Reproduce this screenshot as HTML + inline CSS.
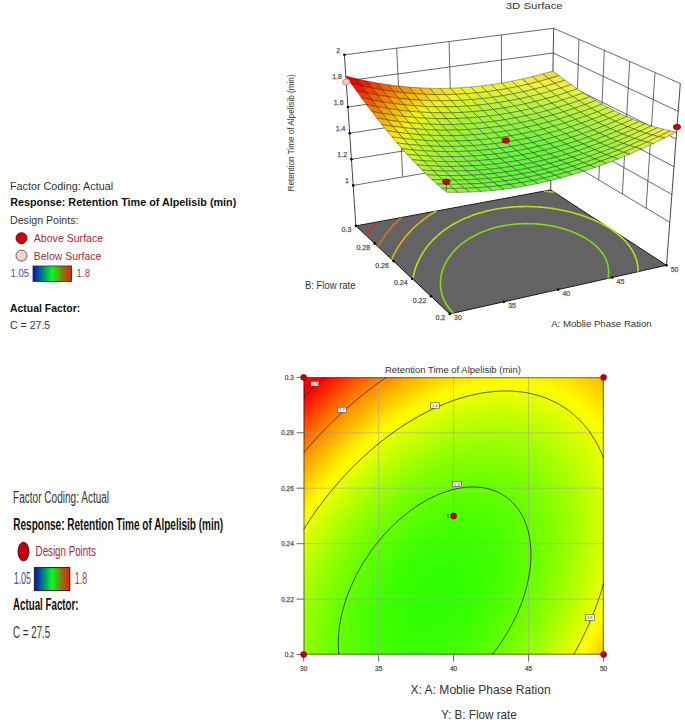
<!DOCTYPE html>
<html><head><meta charset="utf-8"><style>
html,body{margin:0;padding:0;background:#fff;}
svg{display:block;}
text{font-family:"Liberation Sans",sans-serif;}
</style></head><body>
<svg width="685" height="725" viewBox="0 0 685 725">
<defs><linearGradient id="lg" x1="0" x2="1" y1="0" y2="0"><stop offset="0" stop-color="#0010c8"/><stop offset="0.25" stop-color="#008080"/><stop offset="0.5" stop-color="#00ff20"/><stop offset="0.75" stop-color="#7f8010"/><stop offset="1" stop-color="#f01a10"/></linearGradient></defs>
<text x="10" y="189.6" font-size="11.5" textLength="103.1" lengthAdjust="spacingAndGlyphs" fill="#333">Factor Coding: Actual</text>
<text x="10.2" y="206.4" font-size="11.5" textLength="226.1" lengthAdjust="spacingAndGlyphs" font-weight="bold" fill="#111">Response: Retention Time of Alpelisib (min)</text>
<text x="10" y="223.9" font-size="11.5" textLength="68.5" lengthAdjust="spacingAndGlyphs" fill="#333">Design Points:</text>
<circle cx="21.5" cy="238.2" r="5.5" fill="#cc0010" stroke="#6a0010" stroke-width="0.9"/>
<text x="33.8" y="242.3" font-size="11.5" textLength="69.3" lengthAdjust="spacingAndGlyphs" fill="#a8283a">Above Surface</text>
<circle cx="21.5" cy="255.6" r="5.5" fill="#f8d0d0" stroke="#5a4848" stroke-width="0.9"/>
<text x="33.8" y="259.7" font-size="11.5" textLength="67.5" lengthAdjust="spacingAndGlyphs" fill="#a8283a">Below Surface</text>
<text x="10.6" y="276.5" font-size="11.5" textLength="18.6" lengthAdjust="spacingAndGlyphs" fill="#4646b4">1.05</text>
<rect x="33" y="266" width="38.6" height="15.4" fill="url(#lg)" stroke="#402020" stroke-width="0.8"/>
<text x="76.6" y="276.5" font-size="11.5" textLength="13.4" lengthAdjust="spacingAndGlyphs" fill="#c03444">1.8</text>
<text x="10" y="311.9" font-size="11.5" textLength="70.3" lengthAdjust="spacingAndGlyphs" font-weight="bold" fill="#111">Actual Factor:</text>
<text x="10" y="329.2" font-size="11.5" textLength="40.2" lengthAdjust="spacingAndGlyphs" fill="#333">C = 27.5</text>
<g fill="none">
<line x1="353.2" y1="185.4" x2="551.4" y2="151.7" stroke="#444" stroke-width="0.8"/>
<line x1="351.4" y1="159.3" x2="551.9" y2="127.0" stroke="#444" stroke-width="0.8"/>
<line x1="349.7" y1="133.2" x2="552.3" y2="102.3" stroke="#444" stroke-width="0.8"/>
<line x1="347.9" y1="107.0" x2="552.8" y2="77.6" stroke="#444" stroke-width="0.8"/>
<line x1="346.2" y1="80.9" x2="553.2" y2="53.0" stroke="#444" stroke-width="0.8"/>
<line x1="344.4" y1="54.8" x2="553.7" y2="28.3" stroke="#444" stroke-width="0.8"/>
<line x1="402.7" y1="177.0" x2="396.7" y2="48.2" stroke="#444" stroke-width="0.8"/>
<line x1="452.3" y1="168.5" x2="449.1" y2="41.5" stroke="#444" stroke-width="0.8"/>
<line x1="501.9" y1="160.1" x2="501.4" y2="34.9" stroke="#444" stroke-width="0.8"/>
<line x1="669.8" y1="222.3" x2="551.4" y2="151.7" stroke="#444" stroke-width="0.8"/>
<line x1="671.9" y1="194.5" x2="551.9" y2="127.0" stroke="#444" stroke-width="0.8"/>
<line x1="674.0" y1="166.8" x2="552.3" y2="102.3" stroke="#444" stroke-width="0.8"/>
<line x1="676.1" y1="139.0" x2="552.8" y2="77.6" stroke="#444" stroke-width="0.8"/>
<line x1="678.2" y1="111.3" x2="553.2" y2="53.0" stroke="#444" stroke-width="0.8"/>
<line x1="680.3" y1="83.5" x2="553.7" y2="28.3" stroke="#444" stroke-width="0.8"/>
<line x1="646.1" y1="208.2" x2="655.0" y2="72.5" stroke="#444" stroke-width="0.8"/>
<line x1="622.4" y1="194.0" x2="629.7" y2="61.4" stroke="#444" stroke-width="0.8"/>
<line x1="598.8" y1="179.9" x2="604.3" y2="50.4" stroke="#444" stroke-width="0.8"/>
<line x1="575.1" y1="165.8" x2="579.0" y2="39.3" stroke="#444" stroke-width="0.8"/>
<line x1="355.9" y1="225.9" x2="344.4" y2="54.8" stroke="#333" stroke-width="0.9"/>
<line x1="550.7" y1="189.9" x2="553.7" y2="28.3" stroke="#333" stroke-width="0.9"/>
<line x1="666.5" y1="265.3" x2="680.3" y2="83.5" stroke="#333" stroke-width="0.9"/>
</g>
<polygon points="449.8,313.9 666.5,265.3 550.7,189.9 355.9,225.9" fill="#636363" stroke="#1a1a1a" stroke-width="1"/>
<polyline points="376.2,222.1 375.3,223.2 374.6,224.0 373.8,225.0 373.1,225.9 372.3,226.9 371.7,227.7 370.8,228.8 370.3,229.6 369.4,230.8 368.9,231.4 368.1,232.6 367.5,233.5 366.8,234.5 366.1,235.5 366.1,235.5" fill="none" stroke="#dd2516" stroke-width="1.6"/>
<polyline points="401.3,217.5 400.5,218.2 399.4,219.3 398.5,220.1 397.7,220.9 396.5,222.0 395.9,222.7 394.9,223.7 394.1,224.6 393.3,225.4 392.3,226.5 391.7,227.2 390.7,228.4 390.1,229.0 389.1,230.2 388.6,230.9 387.6,232.1 387.1,232.8 386.1,234.0 385.6,234.7 384.8,235.8 384.2,236.7 383.5,237.7 382.8,238.7 382.2,239.5 381.4,240.7 380.9,241.5 380.3,242.5 379.6,243.6 379.2,244.3 378.5,245.5 377.9,246.5 377.9,246.5" fill="none" stroke="#dd6f16" stroke-width="1.6"/>
<polyline points="436.3,211.0 435.1,211.8 433.8,212.5 432.7,213.3 431.4,214.0 430.1,214.9 428.7,215.8 427.4,216.7 426.3,217.5 425.3,218.2 424.2,219.0 423.0,220.0 421.7,221.0 420.9,221.6 419.9,222.5 418.7,223.5 417.7,224.3 416.9,225.0 415.7,226.1 414.8,227.0 414.0,227.7 412.8,228.8 412.1,229.6 411.1,230.5 410.2,231.5 409.5,232.3 408.5,233.4 407.9,234.1 406.8,235.3 406.3,235.9 405.3,237.1 404.7,237.8 403.8,239.0 403.3,239.7 402.4,240.9 401.8,241.6 401.0,242.7 400.4,243.7 399.8,244.6 399.0,245.7 398.6,246.4 397.8,247.6 397.2,248.6 396.7,249.4 396.1,250.6 395.5,251.5 395.1,252.4 394.4,253.6 393.9,254.6 393.5,255.4 393.0,256.6 392.4,257.8 392.1,258.6 391.7,259.5" fill="none" stroke="#ddb616" stroke-width="1.6"/>
<polyline points="554.3,192.3 552.4,192.0 549.7,191.7 547.5,191.5 545.2,191.2 544.1,191.1" fill="none" stroke="#ddb616" stroke-width="1.6"/>
<polyline points="638.0,271.7 638.0,270.7 638.0,269.6 638.0,268.6 637.9,267.6 637.8,266.6 637.7,265.6 637.5,264.6 637.3,263.6 637.1,262.7 636.9,261.7 636.7,260.7 636.4,259.7 636.0,258.5 635.6,257.4 635.2,256.4 634.9,255.5 634.4,254.6 633.8,253.3 633.3,252.3 632.8,251.4 632.3,250.4 631.5,249.1 630.9,248.3 630.2,247.2 629.4,246.1 628.7,245.2 627.7,243.9 627.0,243.0 625.9,241.8 625.1,240.9 623.9,239.7 623.1,238.8 621.8,237.6 620.4,236.4 619.5,235.6 618.1,234.4 616.6,233.2 615.0,232.0 613.4,230.8 611.7,229.7 610.0,228.6 608.2,227.4 606.3,226.3 604.4,225.2 602.4,224.1 600.4,223.1 598.9,222.4 596.7,221.3 595.1,220.6 592.9,219.6 591.2,218.9 588.8,217.9 587.1,217.3 584.9,216.5 582.7,215.7 580.8,215.1 578.9,214.5 576.9,213.9 574.7,213.2 572.4,212.6 570.3,212.0 568.2,211.5 566.1,211.0 563.7,210.5 561.2,210.0 558.7,209.5 557.0,209.2 554.5,208.8 551.9,208.4 550.2,208.2 547.1,207.8 545.4,207.6 542.6,207.3 540.2,207.1 538.3,207.0 535.5,206.8 532.8,206.7 530.1,206.6 527.6,206.5 525.0,206.5 522.5,206.6 520.1,206.6 517.7,206.7 515.3,206.8 511.9,207.1 509.7,207.3 506.4,207.6 504.2,207.8 501.1,208.3 498.0,208.7 495.0,209.3 492.0,209.8 489.2,210.5 486.3,211.1 483.6,211.9 481.8,212.4 479.1,213.1 477.3,213.7 474.7,214.5 473.1,215.1 471.4,215.7 469.0,216.7 467.3,217.4 465.7,218.0 464.1,218.7 462.5,219.4 460.8,220.3 459.1,221.1 457.6,221.9 456.1,222.7 454.6,223.5 453.3,224.3 452.0,225.0 450.8,225.8 449.4,226.7 448.0,227.6 446.7,228.5 445.3,229.4 444.4,230.1 443.4,230.9 442.1,231.8 440.8,232.9 439.9,233.6 439.0,234.4 437.8,235.5 436.8,236.3 436.0,237.1 434.8,238.2 434.1,238.9 433.1,239.9 432.2,240.9 431.4,241.7 430.4,242.8 429.8,243.5 428.7,244.7 428.2,245.3 427.2,246.6 426.7,247.3 425.8,248.4 425.2,249.2 424.5,250.3 423.8,251.3 423.2,252.1 422.5,253.3 422.0,254.1 421.4,255.2 420.7,256.3 420.3,257.1 419.7,258.1 419.1,259.3 418.7,260.2 418.3,261.1 417.7,262.3 417.3,263.4 416.9,264.2 416.5,265.2 416.1,266.4 415.7,267.5 415.3,268.6 415.1,269.5 414.8,270.4 414.5,271.5 414.2,272.7 413.9,273.8 413.7,274.9 413.4,276.1 413.2,277.2 413.1,278.3 412.9,279.3 412.9,279.3" fill="none" stroke="#bfdd16" stroke-width="1.6"/>
<polyline points="607.9,278.4 608.1,277.4 608.3,276.3 608.4,275.2 608.5,274.2 608.6,273.1 608.6,272.1 608.6,271.0 608.5,270.0 608.5,269.0 608.4,268.0 608.2,267.0 608.0,266.0 607.8,265.0 607.6,264.0 607.3,263.1 606.9,261.9 606.5,260.7 606.1,259.7 605.7,258.8 605.1,257.7 604.5,256.5 603.9,255.6 603.3,254.5 602.5,253.4 601.9,252.5 600.8,251.2 600.1,250.3 599.0,249.0 598.2,248.1 597.0,246.9 595.6,245.7 594.5,244.7 593.3,243.6 591.7,242.4 590.1,241.2 588.4,240.1 586.7,238.9 584.8,237.8 583.0,236.8 581.5,236.0 579.3,234.9 577.8,234.2 575.6,233.1 574.0,232.5 571.4,231.5 569.7,230.8 567.9,230.2 565.7,229.4 563.3,228.7 561.1,228.1 558.9,227.5 556.9,227.0 555.0,226.6 552.8,226.1 550.2,225.7 547.8,225.3 546.0,225.0 543.0,224.6 541.4,224.4 538.4,224.1 536.1,223.9 534.1,223.8 531.3,223.7 528.7,223.6 526.1,223.6 523.6,223.7 521.1,223.8 518.2,223.9 515.2,224.2 513.0,224.4 509.7,224.8 506.5,225.2 504.4,225.6 501.4,226.2 499.4,226.6 496.5,227.3 493.7,228.1 491.8,228.6 489.2,229.4 487.4,230.0 484.8,231.0 483.1,231.6 481.5,232.3 479.8,233.0 477.9,233.9 476.1,234.8 474.5,235.6 472.9,236.5 471.5,237.3 470.2,238.0 468.9,238.8 467.8,239.6 466.4,240.5 465.0,241.4 463.7,242.4 462.7,243.2 461.7,243.9 460.4,245.0 459.3,245.9 458.5,246.6 457.4,247.7 456.4,248.6 455.6,249.4 454.5,250.6 453.9,251.2 452.9,252.4 452.2,253.1 451.3,254.3 450.7,255.0 449.8,256.3 449.3,257.0 448.5,258.1 447.9,259.1 447.4,260.0 446.6,261.2 446.2,262.0 445.7,263.0 445.1,264.1 444.6,265.1 444.2,265.9 443.7,267.1 443.3,268.2 442.9,269.3 442.6,270.1 442.3,271.1 442.0,272.3 441.7,273.4 441.4,274.5 441.2,275.6 441.0,276.7 440.8,277.7 440.7,278.8 440.6,279.9 440.5,281.0 440.4,282.1 440.4,283.2 440.4,284.4 440.5,285.5 440.5,286.5 440.6,287.6 440.8,288.7 440.9,289.7 441.2,291.1 441.4,292.3 441.7,293.3 441.9,294.4 442.4,295.9 442.8,296.9 443.1,297.9 443.8,299.4 444.2,300.4 444.9,301.9 445.5,302.8 446.3,304.3 446.9,305.2 447.9,306.7 448.9,308.0 449.7,309.0 450.8,310.4 452.1,311.8 453.4,313.1 453.4,313.1" fill="none" stroke="#7add16" stroke-width="1.6"/>
<circle cx="353.2" cy="185.4" r="1.3" fill="#000"/>
<circle cx="351.4" cy="159.3" r="1.3" fill="#000"/>
<circle cx="349.7" cy="133.2" r="1.3" fill="#000"/>
<circle cx="347.9" cy="107.0" r="1.3" fill="#000"/>
<circle cx="346.2" cy="80.9" r="1.3" fill="#000"/>
<circle cx="344.4" cy="54.8" r="1.3" fill="#000"/>
<circle cx="449.8" cy="313.9" r="1.3" fill="#000"/>
<circle cx="504.0" cy="301.8" r="1.3" fill="#000"/>
<circle cx="558.1" cy="289.6" r="1.3" fill="#000"/>
<circle cx="612.3" cy="277.5" r="1.3" fill="#000"/>
<circle cx="666.5" cy="265.3" r="1.3" fill="#000"/>
<circle cx="431.0" cy="296.3" r="1.3" fill="#000"/>
<circle cx="412.2" cy="278.7" r="1.3" fill="#000"/>
<circle cx="393.5" cy="261.1" r="1.3" fill="#000"/>
<circle cx="374.7" cy="243.5" r="1.3" fill="#000"/>
<circle cx="355.9" cy="225.9" r="1.3" fill="#000"/>
<g stroke="#000" stroke-width="0.6" stroke-opacity="0.55" stroke-linejoin="round">
<polygon points="548.7,78.7 559.1,75.6 552.9,70.9 542.6,73.9" fill="#f2d741"/>
<polygon points="538.4,81.6 548.7,78.7 542.6,73.9 532.3,76.6" fill="#f2e241"/>
<polygon points="554.8,83.4 565.2,80.2 559.1,75.6 548.7,78.7" fill="#f2e441"/>
<polygon points="528.0,84.2 538.4,81.6 532.3,76.6 522.1,79.0" fill="#f2eb41"/>
<polygon points="544.4,86.4 554.8,83.4 548.7,78.7 538.4,81.6" fill="#f2ef41"/>
<polygon points="517.7,86.5 528.0,84.2 522.1,79.0 511.8,81.2" fill="#f2f241"/>
<polygon points="560.9,88.0 571.3,84.6 565.2,80.2 554.8,83.4" fill="#f2ef41"/>
<polygon points="534.0,89.2 544.4,86.4 538.4,81.6 528.0,84.2" fill="#ebf241"/>
<polygon points="507.4,88.5 517.7,86.5 511.8,81.2 501.6,83.1" fill="#edf23c"/>
<polygon points="550.4,91.1 560.9,88.0 554.8,83.4 544.4,86.4" fill="#e9f241"/>
<polygon points="523.6,91.6 534.0,89.2 528.0,84.2 517.7,86.5" fill="#e4f241"/>
<polygon points="497.1,90.2 507.4,88.5 501.6,83.1 491.3,84.7" fill="#ebf237"/>
<polygon points="566.9,92.4 577.5,88.8 571.3,84.6 560.9,88.0" fill="#ebf241"/>
<polygon points="540.0,94.0 550.4,91.1 544.4,86.4 534.0,89.2" fill="#def241"/>
<polygon points="513.3,93.8 523.6,91.6 517.7,86.5 507.4,88.5" fill="#def241"/>
<polygon points="486.8,91.7 497.1,90.2 491.3,84.7 481.1,86.0" fill="#eaf231"/>
<polygon points="556.4,95.7 566.9,92.4 560.9,88.0 550.4,91.1" fill="#def241"/>
<polygon points="529.5,96.6 540.0,94.0 534.0,89.2 523.6,91.6" fill="#d7f241"/>
<polygon points="502.9,95.7 513.3,93.8 507.4,88.5 497.1,90.2" fill="#dbf23c"/>
<polygon points="476.5,92.9 486.8,91.7 481.1,86.0 470.8,87.0" fill="#ecf22c"/>
<polygon points="573.0,96.6 583.6,92.9 577.5,88.8 566.9,92.4" fill="#e3f241"/>
<polygon points="545.9,98.7 556.4,95.7 550.4,91.1 540.0,94.0" fill="#d3f241"/>
<polygon points="519.1,98.9 529.5,96.6 523.6,91.6 513.3,93.8" fill="#d0f241"/>
<polygon points="492.6,97.3 502.9,95.7 497.1,90.2 486.8,91.7" fill="#d8f237"/>
<polygon points="466.2,93.7 476.5,92.9 470.8,87.0 460.5,87.8" fill="#f1f226"/>
<polygon points="562.4,100.0 573.0,96.6 566.9,92.4 556.4,95.7" fill="#d5f241"/>
<polygon points="535.4,101.4 545.9,98.7 540.0,94.0 529.5,96.6" fill="#caf241"/>
<polygon points="508.7,100.9 519.1,98.9 513.3,93.8 502.9,95.7" fill="#ccf241"/>
<polygon points="482.2,98.6 492.6,97.3 486.8,91.7 476.5,92.9" fill="#d9f231"/>
<polygon points="455.9,94.3 466.2,93.7 460.5,87.8 450.2,88.2" fill="#f2ec21"/>
<polygon points="579.1,100.7 589.7,96.8 583.6,92.9 573.0,96.6" fill="#dbf241"/>
<polygon points="551.8,103.2 562.4,100.0 556.4,95.7 545.9,98.7" fill="#c9f241"/>
<polygon points="524.9,103.9 535.4,101.4 529.5,96.6 519.1,98.9" fill="#c3f241"/>
<polygon points="498.3,102.6 508.7,100.9 502.9,95.7 492.6,97.3" fill="#caf23c"/>
<polygon points="471.8,99.6 482.2,98.6 476.5,92.9 466.2,93.7" fill="#dcf22c"/>
<polygon points="445.5,94.6 455.9,94.3 450.2,88.2 439.9,88.4" fill="#f2e21b"/>
<polygon points="568.4,104.2 579.1,100.7 573.0,96.6 562.4,100.0" fill="#cdf241"/>
<polygon points="541.3,106.1 551.8,103.2 545.9,98.7 535.4,101.4" fill="#c0f241"/>
<polygon points="514.5,106.0 524.9,103.9 519.1,98.9 508.7,100.9" fill="#bff241"/>
<polygon points="487.9,104.1 498.3,102.6 492.6,97.3 482.2,98.6" fill="#c8f237"/>
<polygon points="461.5,100.3 471.8,99.6 466.2,93.7 455.9,94.3" fill="#e1f226"/>
<polygon points="585.1,104.5 595.9,100.5 589.7,96.8 579.1,100.7" fill="#d6f241"/>
<polygon points="435.1,94.6 445.5,94.6 439.9,88.4 429.6,88.2" fill="#f2d516"/>
<polygon points="557.8,107.5 568.4,104.2 562.4,100.0 551.8,103.2" fill="#c0f241"/>
<polygon points="530.8,108.7 541.3,106.1 535.4,101.4 524.9,103.9" fill="#b8f241"/>
<polygon points="504.0,107.9 514.5,106.0 508.7,100.9 498.3,102.6" fill="#bcf241"/>
<polygon points="477.5,105.2 487.9,104.1 482.2,98.6 471.8,99.6" fill="#caf231"/>
<polygon points="451.1,100.7 461.5,100.3 455.9,94.3 445.5,94.6" fill="#eaf221"/>
<polygon points="574.4,108.3 585.1,104.5 579.1,100.7 568.4,104.2" fill="#c7f241"/>
<polygon points="424.8,94.3 435.1,94.6 429.6,88.2 419.3,87.8" fill="#f2c410"/>
<polygon points="547.2,110.6 557.8,107.5 551.8,103.2 541.3,106.1" fill="#b6f241"/>
<polygon points="520.2,110.9 530.8,108.7 524.9,103.9 514.5,106.0" fill="#b2f241"/>
<polygon points="493.5,109.5 504.0,107.9 498.3,102.6 487.9,104.1" fill="#baf23c"/>
<polygon points="467.0,106.1 477.5,105.2 471.8,99.6 461.5,100.3" fill="#cef22c"/>
<polygon points="591.2,108.3 602.0,104.1 595.9,100.5 585.1,104.5" fill="#d1f241"/>
<polygon points="440.7,100.8 451.1,100.7 445.5,94.6 435.1,94.6" fill="#f2ee1b"/>
<polygon points="563.7,111.7 574.4,108.3 568.4,104.2 557.8,107.5" fill="#b9f241"/>
<polygon points="414.3,93.7 424.8,94.3 419.3,87.8 408.9,87.1" fill="#f2b00b"/>
<polygon points="536.6,113.3 547.2,110.6 541.3,106.1 530.8,108.7" fill="#aef241"/>
<polygon points="509.7,113.0 520.2,110.9 514.5,106.0 504.0,107.9" fill="#b0f241"/>
<polygon points="483.1,110.7 493.5,109.5 487.9,104.1 477.5,105.2" fill="#baf237"/>
<polygon points="456.6,106.6 467.0,106.1 461.5,100.3 451.1,100.7" fill="#d5f226"/>
<polygon points="580.4,112.1 591.2,108.3 585.1,104.5 574.4,108.3" fill="#c1f241"/>
<polygon points="430.2,100.6 440.7,100.8 435.1,94.6 424.8,94.3" fill="#f2df16"/>
<polygon points="553.0,114.9 563.7,111.7 557.8,107.5 547.2,110.6" fill="#aef241"/>
<polygon points="403.9,92.8 414.3,93.7 408.9,87.1 398.5,86.0" fill="#f29705"/>
<polygon points="526.0,115.7 536.6,113.3 530.8,108.7 520.2,110.9" fill="#a8f241"/>
<polygon points="499.2,114.7 509.7,113.0 504.0,107.9 493.5,109.5" fill="#aef241"/>
<polygon points="472.6,111.7 483.1,110.7 477.5,105.2 467.0,106.1" fill="#bdf231"/>
<polygon points="597.3,111.8 608.2,107.5 602.0,104.1 591.2,108.3" fill="#cdf241"/>
<polygon points="446.1,106.9 456.6,106.6 451.1,100.7 440.7,100.8" fill="#dff221"/>
<polygon points="569.6,115.7 580.4,112.1 574.4,108.3 563.7,111.7" fill="#b3f241"/>
<polygon points="419.8,100.2 430.2,100.6 424.8,94.3 414.3,93.7" fill="#f2cd10"/>
<polygon points="542.4,117.7 553.0,114.9 547.2,110.6 536.6,113.3" fill="#a5f241"/>
<polygon points="393.4,91.5 403.9,92.8 398.5,86.0 388.0,84.7" fill="#f27c00"/>
<polygon points="515.4,117.9 526.0,115.7 520.2,110.9 509.7,113.0" fill="#a4f241"/>
<polygon points="488.7,116.1 499.2,114.7 493.5,109.5 483.1,110.7" fill="#aef23c"/>
<polygon points="462.1,112.4 472.6,111.7 467.0,106.1 456.6,106.6" fill="#c3f22c"/>
<polygon points="586.4,115.8 597.3,111.8 591.2,108.3 580.4,112.1" fill="#bdf241"/>
<polygon points="435.7,106.8 446.1,106.9 440.7,100.8 430.2,100.6" fill="#ecf21b"/>
<polygon points="558.9,119.0 569.6,115.7 563.7,111.7 553.0,114.9" fill="#a7f241"/>
<polygon points="409.3,99.4 419.8,100.2 414.3,93.7 403.9,92.8" fill="#f2b70b"/>
<polygon points="531.7,120.3 542.4,117.7 536.6,113.3 526.0,115.7" fill="#9ef241"/>
<polygon points="382.9,90.0 393.4,91.5 388.0,84.7 377.6,83.0" fill="#f25f00"/>
<polygon points="504.8,119.7 515.4,117.9 509.7,113.0 499.2,114.7" fill="#a2f241"/>
<polygon points="478.2,117.2 488.7,116.1 483.1,110.7 472.6,111.7" fill="#aff237"/>
<polygon points="603.3,115.1 614.3,110.7 608.2,107.5 597.3,111.8" fill="#ccf241"/>
<polygon points="451.6,112.8 462.1,112.4 456.6,106.6 446.1,106.9" fill="#cbf226"/>
<polygon points="575.6,119.5 586.4,115.8 580.4,112.1 569.6,115.7" fill="#aef241"/>
<polygon points="425.2,106.5 435.7,106.8 430.2,100.6 419.8,100.2" fill="#f2e816"/>
<polygon points="548.2,122.0 558.9,119.0 553.0,114.9 542.4,117.7" fill="#9ef241"/>
<polygon points="398.8,98.3 409.3,99.4 403.9,92.8 393.4,91.5" fill="#f29e05"/>
<polygon points="521.1,122.6 531.7,120.3 526.0,115.7 515.4,117.9" fill="#9af241"/>
<polygon points="372.3,88.1 382.9,90.0 377.6,83.0 367.0,81.0" fill="#f23f00"/>
<polygon points="494.3,121.3 504.8,119.7 499.2,114.7 488.7,116.1" fill="#a2f241"/>
<polygon points="467.6,118.0 478.2,117.2 472.6,111.7 462.1,112.4" fill="#b3f231"/>
<polygon points="592.4,119.3 603.3,115.1 597.3,111.8 586.4,115.8" fill="#bbf241"/>
<polygon points="441.1,112.9 451.6,112.8 446.1,106.9 435.7,106.8" fill="#d6f221"/>
<polygon points="564.8,123.0 575.6,119.5 569.6,115.7 558.9,119.0" fill="#a2f241"/>
<polygon points="414.6,105.8 425.2,106.5 419.8,100.2 409.3,99.4" fill="#f2d410"/>
<polygon points="537.5,124.7 548.2,122.0 542.4,117.7 531.7,120.3" fill="#96f241"/>
<polygon points="388.2,96.8 398.8,98.3 393.4,91.5 382.9,90.0" fill="#f27f00"/>
<polygon points="510.5,124.6 521.1,122.6 515.4,117.9 504.8,119.7" fill="#97f241"/>
<polygon points="361.7,86.0 372.3,88.1 367.0,81.0 356.5,78.7" fill="#f21c00"/>
<polygon points="483.7,122.5 494.3,121.3 488.7,116.1 478.2,117.2" fill="#a3f23c"/>
<polygon points="609.4,118.3 620.5,113.7 614.3,110.7 603.3,115.1" fill="#cbf241"/>
<polygon points="457.1,118.5 467.6,118.0 462.1,112.4 451.6,112.8" fill="#b9f22c"/>
<polygon points="581.5,123.2 592.4,119.3 586.4,115.8 575.6,119.5" fill="#abf241"/>
<polygon points="430.6,112.6 441.1,112.9 435.7,106.8 425.2,106.5" fill="#e5f21b"/>
<polygon points="554.0,126.1 564.8,123.0 558.9,119.0 548.2,122.0" fill="#97f241"/>
<polygon points="404.1,104.8 414.6,105.8 409.3,99.4 398.8,98.3" fill="#f2bc0b"/>
<polygon points="526.8,127.2 537.5,124.7 531.7,120.3 521.1,122.6" fill="#91f241"/>
<polygon points="377.6,95.1 388.2,96.8 382.9,90.0 372.3,88.1" fill="#f26100"/>
<polygon points="499.9,126.3 510.5,124.6 504.8,119.7 494.3,121.3" fill="#97f241"/>
<polygon points="351.1,83.5 361.7,86.0 356.5,78.7 345.8,76.1" fill="#f20000"/>
<polygon points="473.1,123.5 483.7,122.5 478.2,117.2 467.6,118.0" fill="#a6f237"/>
<polygon points="598.4,122.6 609.4,118.3 603.3,115.1 592.4,119.3" fill="#b9f241"/>
<polygon points="446.5,118.7 457.1,118.5 451.6,112.8 441.1,112.9" fill="#c3f226"/>
<polygon points="570.6,126.8 581.5,123.2 575.6,119.5 564.8,123.0" fill="#9ef241"/>
<polygon points="420.0,112.1 430.6,112.6 425.2,106.5 414.6,105.8" fill="#f2ed16"/>
<polygon points="543.2,129.0 554.0,126.1 548.2,122.0 537.5,124.7" fill="#90f241"/>
<polygon points="393.5,103.6 404.1,104.8 398.8,98.3 388.2,96.8" fill="#f2a105"/>
<polygon points="516.1,129.3 526.8,127.2 521.1,122.6 510.5,124.6" fill="#8ef241"/>
<polygon points="367.0,93.1 377.6,95.1 372.3,88.1 361.7,86.0" fill="#f23f00"/>
<polygon points="489.2,127.7 499.9,126.3 494.3,121.3 483.7,122.5" fill="#99f241"/>
<polygon points="615.5,121.3 626.7,116.5 620.5,113.7 609.4,118.3" fill="#ccf241"/>
<polygon points="462.5,124.1 473.1,123.5 467.6,118.0 457.1,118.5" fill="#aaf231"/>
<polygon points="587.5,126.6 598.4,122.6 592.4,119.3 581.5,123.2" fill="#a9f241"/>
<polygon points="435.9,118.6 446.5,118.7 441.1,112.9 430.6,112.6" fill="#d0f221"/>
<polygon points="559.8,130.1 570.6,126.8 564.8,123.0 554.0,126.1" fill="#93f241"/>
<polygon points="409.4,111.3 420.0,112.1 414.6,105.8 404.1,104.8" fill="#f2d810"/>
<polygon points="532.5,131.6 543.2,129.0 537.5,124.7 526.8,127.2" fill="#8af241"/>
<polygon points="382.8,102.0 393.5,103.6 388.2,96.8 377.6,95.1" fill="#f28100"/>
<polygon points="505.4,131.1 516.1,129.3 510.5,124.6 499.9,126.3" fill="#8df241"/>
<polygon points="356.3,90.7 367.0,93.1 361.7,86.0 351.1,83.5" fill="#f21b00"/>
<polygon points="478.6,128.8 489.2,127.7 483.7,122.5 473.1,123.5" fill="#9af23c"/>
<polygon points="604.5,125.7 615.5,121.3 609.4,118.3 598.4,122.6" fill="#b9f241"/>
<polygon points="451.9,124.5 462.5,124.1 457.1,118.5 446.5,118.7" fill="#b2f22c"/>
<polygon points="576.5,130.4 587.5,126.6 581.5,123.2 570.6,126.8" fill="#9cf241"/>
<polygon points="425.3,118.2 435.9,118.6 430.6,112.6 420.0,112.1" fill="#e0f21b"/>
<polygon points="549.0,133.1 559.8,130.1 554.0,126.1 543.2,129.0" fill="#8af241"/>
<polygon points="398.7,110.1 409.4,111.3 404.1,104.8 393.5,103.6" fill="#f2bf0b"/>
<polygon points="521.7,133.8 532.5,131.6 526.8,127.2 516.1,129.3" fill="#85f241"/>
<polygon points="372.2,100.0 382.8,102.0 377.6,95.1 367.0,93.1" fill="#f26000"/>
<polygon points="494.8,132.6 505.4,131.1 499.9,126.3 489.2,127.7" fill="#8ef241"/>
<polygon points="621.6,124.1 632.8,119.2 626.7,116.5 615.5,121.3" fill="#cef241"/>
<polygon points="467.9,129.5 478.6,128.8 473.1,123.5 462.5,124.1" fill="#9ef237"/>
<polygon points="593.4,129.9 604.5,125.7 598.4,122.6 587.5,126.6" fill="#a9f241"/>
<polygon points="441.3,124.5 451.9,124.5 446.5,118.7 435.9,118.6" fill="#bdf226"/>
<polygon points="565.6,133.8 576.5,130.4 570.6,126.8 559.8,130.1" fill="#90f241"/>
<polygon points="414.7,117.5 425.3,118.2 420.0,112.1 409.4,111.3" fill="#f2f116"/>
<polygon points="538.2,135.8 549.0,133.1 543.2,129.0 532.5,131.6" fill="#83f241"/>
<polygon points="388.1,108.6 398.7,110.1 393.5,103.6 382.8,102.0" fill="#f2a105"/>
<polygon points="511.0,135.8 521.7,133.8 516.1,129.3 505.4,131.1" fill="#84f241"/>
<polygon points="361.4,97.8 372.2,100.0 367.0,93.1 356.3,90.7" fill="#f23c00"/>
<polygon points="484.1,133.9 494.8,132.6 489.2,127.7 478.6,128.8" fill="#91f241"/>
<polygon points="610.5,128.7 621.6,124.1 615.5,121.3 604.5,125.7" fill="#bbf241"/>
<polygon points="457.3,130.0 467.9,129.5 462.5,124.1 451.9,124.5" fill="#a5f231"/>
<polygon points="582.4,133.8 593.4,129.9 587.5,126.6 576.5,130.4" fill="#9af241"/>
<polygon points="430.6,124.2 441.3,124.5 435.9,118.6 425.3,118.2" fill="#ccf221"/>
<polygon points="554.7,137.0 565.6,133.8 559.8,130.1 549.0,133.1" fill="#86f241"/>
<polygon points="404.0,116.5 414.7,117.5 409.4,111.3 398.7,110.1" fill="#f2d910"/>
<polygon points="527.4,138.2 538.2,135.8 532.5,131.6 521.7,133.8" fill="#7ff241"/>
<polygon points="377.3,106.8 388.1,108.6 382.8,102.0 372.2,100.0" fill="#f27f00"/>
<polygon points="500.3,137.5 511.0,135.8 505.4,131.1 494.8,132.6" fill="#84f241"/>
<polygon points="627.8,126.7 639.0,121.6 632.8,119.2 621.6,124.1" fill="#d2f241"/>
<polygon points="473.4,134.8 484.1,133.9 478.6,128.8 467.9,129.5" fill="#94f23c"/>
<polygon points="599.4,133.0 610.5,128.7 604.5,125.7 593.4,129.9" fill="#a9f241"/>
<polygon points="446.6,130.2 457.3,130.0 451.9,124.5 441.3,124.5" fill="#aef22c"/>
<polygon points="571.4,137.4 582.4,133.8 576.5,130.4 565.6,133.8" fill="#8ef241"/>
<polygon points="419.9,123.6 430.6,124.2 425.3,118.2 414.7,117.5" fill="#def21b"/>
<polygon points="543.8,139.8 554.7,137.0 549.0,133.1 538.2,135.8" fill="#7ef241"/>
<polygon points="393.3,115.1 404.0,116.5 398.7,110.1 388.1,108.6" fill="#f2be0b"/>
<polygon points="516.6,140.3 527.4,138.2 521.7,133.8 511.0,135.8" fill="#7cf241"/>
<polygon points="366.6,104.7 377.3,106.8 372.2,100.0 361.4,97.8" fill="#f25c00"/>
<polygon points="489.5,138.8 500.3,137.5 494.8,132.6 484.1,133.9" fill="#87f241"/>
<polygon points="616.5,131.4 627.8,126.7 621.6,124.1 610.5,128.7" fill="#bef241"/>
<polygon points="462.7,135.4 473.4,134.8 467.9,129.5 457.3,130.0" fill="#99f237"/>
<polygon points="588.3,137.0 599.4,133.0 593.4,129.9 582.4,133.8" fill="#9af241"/>
<polygon points="435.9,130.0 446.6,130.2 441.3,124.5 430.6,124.2" fill="#bbf226"/>
<polygon points="560.5,140.7 571.4,137.4 565.6,133.8 554.7,137.0" fill="#83f241"/>
<polygon points="409.2,122.7 419.9,123.6 414.7,117.5 404.0,116.5" fill="#f2f116"/>
<polygon points="533.0,142.4 543.8,139.8 538.2,135.8 527.4,138.2" fill="#7af241"/>
<polygon points="382.5,113.5 393.3,115.1 388.1,108.6 377.3,106.8" fill="#f29f05"/>
<polygon points="505.8,142.1 516.6,140.3 511.0,135.8 500.3,137.5" fill="#7cf241"/>
<polygon points="633.9,129.1 645.2,123.8 639.0,121.6 627.8,126.7" fill="#d7f241"/>
<polygon points="478.8,139.9 489.5,138.8 484.1,133.9 473.4,134.8" fill="#8cf241"/>
<polygon points="605.3,135.9 616.5,131.4 610.5,128.7 599.4,133.0" fill="#acf241"/>
<polygon points="451.9,135.7 462.7,135.4 457.3,130.0 446.6,130.2" fill="#a1f231"/>
<polygon points="577.2,140.8 588.3,137.0 582.4,133.8 571.4,137.4" fill="#8df241"/>
<polygon points="425.2,129.6 435.9,130.0 430.6,124.2 419.9,123.6" fill="#cbf221"/>
<polygon points="549.5,143.7 560.5,140.7 554.7,137.0 543.8,139.8" fill="#7bf241"/>
<polygon points="398.5,121.5 409.2,122.7 404.0,116.5 393.3,115.1" fill="#f2d810"/>
<polygon points="522.1,144.6 533.0,142.4 527.4,138.2 516.6,140.3" fill="#76f241"/>
<polygon points="371.7,111.5 382.5,113.5 377.3,106.8 366.6,104.7" fill="#f27b00"/>
<polygon points="495.0,143.6 505.8,142.1 500.3,137.5 489.5,138.8" fill="#7ef241"/>
<polygon points="622.6,134.0 633.9,129.1 627.8,126.7 616.5,131.4" fill="#c2f241"/>
<polygon points="468.0,140.6 478.8,139.9 473.4,134.8 462.7,135.4" fill="#90f23c"/>
<polygon points="594.2,140.1 605.3,135.9 599.4,133.0 588.3,137.0" fill="#9cf241"/>
<polygon points="441.2,135.7 451.9,135.7 446.6,130.2 435.9,130.0" fill="#acf22c"/>
<polygon points="566.2,144.2 577.2,140.8 571.4,137.4 560.5,140.7" fill="#82f241"/>
<polygon points="414.4,128.8 425.2,129.6 419.9,123.6 409.2,122.7" fill="#def21b"/>
<polygon points="538.6,146.3 549.5,143.7 543.8,139.8 533.0,142.4" fill="#75f241"/>
<polygon points="387.7,120.0 398.5,121.5 393.3,115.1 382.5,113.5" fill="#f2ba0b"/>
<polygon points="511.3,146.5 522.1,144.6 516.6,140.3 505.8,142.1" fill="#75f241"/>
<polygon points="640.0,131.2 651.5,125.9 645.2,123.8 633.9,129.1" fill="#ddf241"/>
<polygon points="484.2,144.8 495.0,143.6 489.5,138.8 478.8,139.9" fill="#82f241"/>
<polygon points="611.3,138.6 622.6,134.0 616.5,131.4 605.3,135.9" fill="#aff241"/>
<polygon points="457.2,141.0 468.0,140.6 462.7,135.4 451.9,135.7" fill="#96f237"/>
<polygon points="583.1,143.9 594.2,140.1 588.3,137.0 577.2,140.8" fill="#8ef241"/>
<polygon points="430.4,135.3 441.2,135.7 435.9,130.0 425.2,129.6" fill="#baf226"/>
<polygon points="555.2,147.3 566.2,144.2 560.5,140.7 549.5,143.7" fill="#79f241"/>
<polygon points="403.6,127.7 414.4,128.8 409.2,122.7 398.5,121.5" fill="#f2ef16"/>
<polygon points="527.7,148.7 538.6,146.3 533.0,142.4 522.1,144.6" fill="#71f241"/>
<polygon points="376.8,118.1 387.7,120.0 382.5,113.5 371.7,111.5" fill="#f29905"/>
<polygon points="500.4,148.2 511.3,146.5 505.8,142.1 495.0,143.6" fill="#76f241"/>
<polygon points="628.6,136.3 640.0,131.2 633.9,129.1 622.6,134.0" fill="#c7f241"/>
<polygon points="473.4,145.6 484.2,144.8 478.8,139.9 468.0,140.6" fill="#88f241"/>
<polygon points="600.1,142.9 611.3,138.6 605.3,135.9 594.2,140.1" fill="#9ef241"/>
<polygon points="446.4,141.2 457.2,141.0 451.9,135.7 441.2,135.7" fill="#a0f231"/>
<polygon points="572.0,147.5 583.1,143.9 577.2,140.8 566.2,144.2" fill="#82f241"/>
<polygon points="419.6,134.7 430.4,135.3 425.2,129.6 414.4,128.8" fill="#ccf221"/>
<polygon points="544.2,150.2 555.2,147.3 549.5,143.7 538.6,146.3" fill="#72f241"/>
<polygon points="392.8,126.3 403.6,127.7 398.5,121.5 387.7,120.0" fill="#f2d310"/>
<polygon points="516.8,150.8 527.7,148.7 522.1,144.6 511.3,146.5" fill="#6ff241"/>
<polygon points="646.2,133.2 657.7,127.7 651.5,125.9 640.0,131.2" fill="#e4f241"/>
<polygon points="489.6,149.5 500.4,148.2 495.0,143.6 484.2,144.8" fill="#7af241"/>
<polygon points="617.3,141.1 628.6,136.3 622.6,134.0 611.3,138.6" fill="#b3f241"/>
<polygon points="462.5,146.2 473.4,145.6 468.0,140.6 457.2,141.0" fill="#8df23c"/>
<polygon points="588.9,146.9 600.1,142.9 594.2,140.1 583.1,143.9" fill="#8ff241"/>
<polygon points="435.6,141.0 446.4,141.2 441.2,135.7 430.4,135.3" fill="#acf22c"/>
<polygon points="560.9,150.8 572.0,147.5 566.2,144.2 555.2,147.3" fill="#78f241"/>
<polygon points="408.8,133.7 419.6,134.7 414.4,128.8 403.6,127.7" fill="#e1f21b"/>
<polygon points="533.2,152.7 544.2,150.2 538.6,146.3 527.7,148.7" fill="#6ef241"/>
<polygon points="381.9,124.6 392.8,126.3 387.7,120.0 376.8,118.1" fill="#f2b50b"/>
<polygon points="505.9,152.6 516.8,150.8 511.3,146.5 500.4,148.2" fill="#70f241"/>
<polygon points="634.7,138.5 646.2,133.2 640.0,131.2 628.6,136.3" fill="#cdf241"/>
<polygon points="478.7,150.5 489.6,149.5 484.2,144.8 473.4,145.6" fill="#7ff241"/>
<polygon points="606.0,145.6 617.3,141.1 611.3,138.6 600.1,142.9" fill="#a2f241"/>
<polygon points="451.7,146.5 462.5,146.2 457.2,141.0 446.4,141.2" fill="#95f237"/>
<polygon points="577.7,150.7 588.9,146.9 583.1,143.9 572.0,147.5" fill="#83f241"/>
<polygon points="424.8,140.4 435.6,141.0 430.4,135.3 419.6,134.7" fill="#bcf226"/>
<polygon points="549.8,153.8 560.9,150.8 555.2,147.3 544.2,150.2" fill="#71f241"/>
<polygon points="397.9,132.4 408.8,133.7 403.6,127.7 392.8,126.3" fill="#f2ea16"/>
<polygon points="522.3,154.9 533.2,152.7 527.7,148.7 516.8,150.8" fill="#6bf241"/>
<polygon points="652.4,135.0 664.0,129.3 657.7,127.7 646.2,133.2" fill="#edf241"/>
<polygon points="495.0,154.0 505.9,152.6 500.4,148.2 489.6,149.5" fill="#73f241"/>
<polygon points="623.3,143.4 634.7,138.5 628.6,136.3 617.3,141.1" fill="#b9f241"/>
<polygon points="467.8,151.2 478.7,150.5 473.4,145.6 462.5,146.2" fill="#86f241"/>
<polygon points="594.7,149.7 606.0,145.6 600.1,142.9 588.9,146.9" fill="#93f241"/>
<polygon points="440.8,146.4 451.7,146.5 446.4,141.2 435.6,141.0" fill="#a0f231"/>
<polygon points="566.6,154.1 577.7,150.7 572.0,147.5 560.9,150.8" fill="#79f241"/>
<polygon points="413.9,139.6 424.8,140.4 419.6,134.7 408.8,133.7" fill="#cff221"/>
<polygon points="538.8,156.4 549.8,153.8 544.2,150.2 533.2,152.7" fill="#6cf241"/>
<polygon points="387.0,130.8 397.9,132.4 392.8,126.3 381.9,124.6" fill="#f2cd10"/>
<polygon points="511.3,156.8 522.3,154.9 516.8,150.8 505.9,152.6" fill="#6bf241"/>
<polygon points="640.8,140.4 652.4,135.0 646.2,133.2 634.7,138.5" fill="#d6f241"/>
<polygon points="484.0,155.2 495.0,154.0 489.6,149.5 478.7,150.5" fill="#77f241"/>
<polygon points="611.9,148.0 623.3,143.4 617.3,141.1 606.0,145.6" fill="#a7f241"/>
<polygon points="456.9,151.6 467.8,151.2 462.5,146.2 451.7,146.5" fill="#8df23c"/>
<polygon points="583.5,153.6 594.7,149.7 588.9,146.9 577.7,150.7" fill="#85f241"/>
<polygon points="429.9,146.0 440.8,146.4 435.6,141.0 424.8,140.4" fill="#aef22c"/>
<polygon points="555.5,157.2 566.6,154.1 560.9,150.8 549.8,153.8" fill="#71f241"/>
<polygon points="403.0,138.4 413.9,139.6 408.8,133.7 397.9,132.4" fill="#e6f21b"/>
<polygon points="527.8,158.8 538.8,156.4 533.2,152.7 522.3,154.9" fill="#68f241"/>
<polygon points="658.6,136.6 670.3,130.8 664.0,129.3 652.4,135.0" fill="#f2ed41"/>
<polygon points="500.3,158.4 511.3,156.8 505.9,152.6 495.0,154.0" fill="#6cf241"/>
<polygon points="629.3,145.5 640.8,140.4 634.7,138.5 623.3,143.4" fill="#c1f241"/>
<polygon points="473.1,156.0 484.0,155.2 478.7,150.5 467.8,151.2" fill="#7ef241"/>
<polygon points="600.6,152.3 611.9,148.0 606.0,145.6 594.7,149.7" fill="#97f241"/>
<polygon points="446.0,151.6 456.9,151.6 451.7,146.5 440.8,146.4" fill="#96f237"/>
<polygon points="572.3,157.2 583.5,153.6 577.7,150.7 566.6,154.1" fill="#7af241"/>
<polygon points="419.0,145.3 429.9,146.0 424.8,140.4 413.9,139.6" fill="#c0f226"/>
<polygon points="544.4,160.0 555.5,157.2 549.8,153.8 538.8,156.4" fill="#6af241"/>
<polygon points="392.0,137.0 403.0,138.4 397.9,132.4 387.0,130.8" fill="#f2e316"/>
<polygon points="516.7,160.8 527.8,158.8 522.3,154.9 511.3,156.8" fill="#68f241"/>
<polygon points="647.0,142.1 658.6,136.6 652.4,135.0 640.8,140.4" fill="#e0f241"/>
<polygon points="489.4,159.7 500.3,158.4 495.0,154.0 484.0,155.2" fill="#71f241"/>
<polygon points="617.9,150.2 629.3,145.5 623.3,143.4 611.9,148.0" fill="#aef241"/>
<polygon points="462.2,156.5 473.1,156.0 467.8,151.2 456.9,151.6" fill="#87f241"/>
<polygon points="589.3,156.3 600.6,152.3 594.7,149.7 583.5,153.6" fill="#8af241"/>
<polygon points="435.1,151.4 446.0,151.6 440.8,146.4 429.9,146.0" fill="#a3f231"/>
<polygon points="561.1,160.4 572.3,157.2 566.6,154.1 555.5,157.2" fill="#72f241"/>
<polygon points="408.0,144.3 419.0,145.3 413.9,139.6 403.0,138.4" fill="#d5f221"/>
<polygon points="533.3,162.5 544.4,160.0 538.8,156.4 527.8,158.8" fill="#67f241"/>
<polygon points="664.8,137.9 676.6,132.0 670.3,130.8 658.6,136.6" fill="#f2e141"/>
<polygon points="505.7,162.6 516.7,160.8 511.3,156.8 500.3,158.4" fill="#68f241"/>
<polygon points="635.4,147.3 647.0,142.1 640.8,140.4 629.3,145.5" fill="#c9f241"/>
<polygon points="478.4,160.6 489.4,159.7 484.0,155.2 473.1,156.0" fill="#77f241"/>
<polygon points="606.4,154.7 617.9,150.2 611.9,148.0 600.6,152.3" fill="#9df241"/>
<polygon points="451.2,156.7 462.2,156.5 456.9,151.6 446.0,151.6" fill="#8ff23c"/>
<polygon points="578.0,160.0 589.3,156.3 583.5,153.6 572.3,157.2" fill="#7ef241"/>
<polygon points="424.1,150.8 435.1,151.4 429.9,146.0 419.0,145.3" fill="#b3f22c"/>
<polygon points="549.9,163.4 561.1,160.4 555.5,157.2 544.4,160.0" fill="#6bf241"/>
<polygon points="397.0,142.9 408.0,144.3 403.0,138.4 392.0,137.0" fill="#eef21b"/>
<polygon points="522.2,164.7 533.3,162.5 527.8,158.8 516.7,160.8" fill="#65f241"/>
<polygon points="653.1,143.6 664.8,137.9 658.6,136.6 647.0,142.1" fill="#eaf241"/>
<polygon points="494.7,164.0 505.7,162.6 500.3,158.4 489.4,159.7" fill="#6cf241"/>
<polygon points="623.8,152.3 635.4,147.3 629.3,145.5 617.9,150.2" fill="#b6f241"/>
<polygon points="467.4,161.3 478.4,160.6 473.1,156.0 462.2,156.5" fill="#7ff241"/>
<polygon points="595.0,158.9 606.4,154.7 600.6,152.3 589.3,156.3" fill="#8ff241"/>
<polygon points="440.2,156.6 451.2,156.7 446.0,151.6 435.1,151.4" fill="#9af237"/>
<polygon points="566.7,163.4 578.0,160.0 572.3,157.2 561.1,160.4" fill="#74f241"/>
<polygon points="413.1,149.9 424.1,150.8 419.0,145.3 408.0,144.3" fill="#c6f226"/>
<polygon points="538.8,166.0 549.9,163.4 544.4,160.0 533.3,162.5" fill="#66f241"/>
<polygon points="511.1,166.5 522.2,164.7 516.7,160.8 505.7,162.6" fill="#65f241"/>
<polygon points="641.4,149.0 653.1,143.6 647.0,142.1 635.4,147.3" fill="#d4f241"/>
<polygon points="483.6,165.1 494.7,164.0 489.4,159.7 478.4,160.6" fill="#71f241"/>
<polygon points="612.3,156.9 623.8,152.3 617.9,150.2 606.4,154.7" fill="#a5f241"/>
<polygon points="456.4,161.6 467.4,161.3 462.2,156.5 451.2,156.7" fill="#8af241"/>
<polygon points="583.7,162.7 595.0,158.9 589.3,156.3 578.0,160.0" fill="#83f241"/>
<polygon points="429.2,156.1 440.2,156.6 435.1,151.4 424.1,150.8" fill="#a9f231"/>
<polygon points="555.5,166.5 566.7,163.4 561.1,160.4 549.9,163.4" fill="#6df241"/>
<polygon points="402.0,148.7 413.1,149.9 408.0,144.3 397.0,142.9" fill="#def221"/>
<polygon points="527.6,168.3 538.8,166.0 533.3,162.5 522.2,164.7" fill="#64f241"/>
<polygon points="500.0,168.1 511.1,166.5 505.7,162.6 494.7,164.0" fill="#68f241"/>
<polygon points="629.8,154.1 641.4,149.0 635.4,147.3 623.8,152.3" fill="#c0f241"/>
<polygon points="472.6,165.9 483.6,165.1 478.4,160.6 467.4,161.3" fill="#79f241"/>
<polygon points="600.8,161.2 612.3,156.9 606.4,154.7 595.0,158.9" fill="#95f241"/>
<polygon points="445.3,161.6 456.4,161.6 451.2,156.7 440.2,156.6" fill="#93f23c"/>
<polygon points="572.4,166.3 583.7,162.7 578.0,160.0 566.7,163.4" fill="#78f241"/>
<polygon points="418.1,155.4 429.2,156.1 424.1,150.8 413.1,149.9" fill="#baf22c"/>
<polygon points="544.3,169.3 555.5,166.5 549.9,163.4 538.8,166.0" fill="#68f241"/>
<polygon points="516.5,170.3 527.6,168.3 522.2,164.7 511.1,166.5" fill="#63f241"/>
<polygon points="488.9,169.3 500.0,168.1 494.7,164.0 483.6,165.1" fill="#6cf241"/>
<polygon points="618.2,158.9 629.8,154.1 623.8,152.3 612.3,156.9" fill="#adf241"/>
<polygon points="461.5,166.3 472.6,165.9 467.4,161.3 456.4,161.6" fill="#83f241"/>
<polygon points="589.4,165.2 600.8,161.2 595.0,158.9 583.7,162.7" fill="#88f241"/>
<polygon points="434.3,161.3 445.3,161.6 440.2,156.6 429.2,156.1" fill="#a0f237"/>
<polygon points="561.1,169.5 572.4,166.3 566.7,163.4 555.5,166.5" fill="#70f241"/>
<polygon points="407.0,154.3 418.1,155.4 413.1,149.9 402.0,148.7" fill="#cff226"/>
<polygon points="533.0,171.8 544.3,169.3 538.8,166.0 527.6,168.3" fill="#64f241"/>
<polygon points="505.3,172.0 516.5,170.3 511.1,166.5 500.0,168.1" fill="#65f241"/>
<polygon points="477.8,170.3 488.9,169.3 483.6,165.1 472.6,165.9" fill="#73f241"/>
<polygon points="606.7,163.3 618.2,158.9 612.3,156.9 600.8,161.2" fill="#9df241"/>
<polygon points="450.4,166.5 461.5,166.3 456.4,161.6 445.3,161.6" fill="#8ef241"/>
<polygon points="578.0,168.9 589.4,165.2 583.7,162.7 572.4,166.3" fill="#7df241"/>
<polygon points="423.2,160.7 434.3,161.3 429.2,156.1 418.1,155.4" fill="#b0f231"/>
<polygon points="549.8,172.4 561.1,169.5 555.5,166.5 544.3,169.3" fill="#6af241"/>
<polygon points="521.8,173.9 533.0,171.8 527.6,168.3 516.5,170.3" fill="#63f241"/>
<polygon points="494.2,173.4 505.3,172.0 500.0,168.1 488.9,169.3" fill="#6af241"/>
<polygon points="466.7,170.9 477.8,170.3 472.6,165.9 461.5,166.3" fill="#7cf241"/>
<polygon points="595.2,167.5 606.7,163.3 600.8,161.2 589.4,165.2" fill="#8ff241"/>
<polygon points="439.3,166.3 450.4,166.5 445.3,161.6 434.3,161.3" fill="#9af23c"/>
<polygon points="566.6,172.3 578.0,168.9 572.4,166.3 561.1,169.5" fill="#74f241"/>
<polygon points="412.0,159.7 423.2,160.7 418.1,155.4 407.0,154.3" fill="#c4f22c"/>
<polygon points="538.5,175.0 549.8,172.4 544.3,169.3 533.0,171.8" fill="#66f241"/>
<polygon points="510.6,175.8 521.8,173.9 516.5,170.3 505.3,172.0" fill="#65f241"/>
<polygon points="483.0,174.5 494.2,173.4 488.9,169.3 477.8,170.3" fill="#70f241"/>
<polygon points="455.5,171.1 466.7,170.9 461.5,166.3 450.4,166.5" fill="#87f241"/>
<polygon points="583.7,171.3 595.2,167.5 589.4,165.2 578.0,168.9" fill="#84f241"/>
<polygon points="428.2,165.8 439.3,166.3 434.3,161.3 423.2,160.7" fill="#a8f237"/>
<polygon points="555.3,175.3 566.6,172.3 561.1,169.5 549.8,172.4" fill="#6ef241"/>
<polygon points="527.2,177.3 538.5,175.0 533.0,171.8 521.8,173.9" fill="#64f241"/>
<polygon points="499.4,177.3 510.6,175.8 505.3,172.0 494.2,173.4" fill="#68f241"/>
<polygon points="471.8,175.2 483.0,174.5 477.8,170.3 466.7,170.9" fill="#78f241"/>
<polygon points="444.4,171.1 455.5,171.1 450.4,166.5 439.3,166.3" fill="#95f241"/>
<polygon points="572.2,174.8 583.7,171.3 578.0,168.9 566.6,172.3" fill="#7af241"/>
<polygon points="417.0,164.9 428.2,165.8 423.2,160.7 412.0,159.7" fill="#b9f231"/>
<polygon points="543.9,178.1 555.3,175.3 549.8,172.4 538.5,175.0" fill="#69f241"/>
<polygon points="515.9,179.3 527.2,177.3 521.8,173.9 510.6,175.8" fill="#65f241"/>
<polygon points="488.2,178.5 499.4,177.3 494.2,173.4 483.0,174.5" fill="#6df241"/>
<polygon points="460.6,175.6 471.8,175.2 466.7,170.9 455.5,171.1" fill="#83f241"/>
<polygon points="433.2,170.7 444.4,171.1 439.3,166.3 428.2,165.8" fill="#a1f23c"/>
<polygon points="560.8,178.0 572.2,174.8 566.6,172.3 555.3,175.3" fill="#73f241"/>
<polygon points="532.6,180.5 543.9,178.1 538.5,175.0 527.2,177.3" fill="#67f241"/>
<polygon points="504.7,180.9 515.9,179.3 510.6,175.8 499.4,177.3" fill="#68f241"/>
<polygon points="477.0,179.3 488.2,178.5 483.0,174.5 471.8,175.2" fill="#75f241"/>
<polygon points="449.4,175.7 460.6,175.6 455.5,171.1 444.4,171.1" fill="#8ff241"/>
<polygon points="422.0,170.0 433.2,170.7 428.2,165.8 417.0,164.9" fill="#b2f237"/>
<polygon points="549.4,180.9 560.8,178.0 555.3,175.3 543.9,178.1" fill="#6ef241"/>
<polygon points="521.3,182.6 532.6,180.5 527.2,177.3 515.9,179.3" fill="#66f241"/>
<polygon points="493.4,182.3 504.7,180.9 499.4,177.3 488.2,178.5" fill="#6cf241"/>
<polygon points="465.7,179.9 477.0,179.3 471.8,175.2 460.6,175.6" fill="#7ef241"/>
<polygon points="438.2,175.4 449.4,175.7 444.4,171.1 433.2,170.7" fill="#9ef241"/>
<polygon points="538.0,183.5 549.4,180.9 543.9,178.1 532.6,180.5" fill="#6af241"/>
<polygon points="509.9,184.4 521.3,182.6 515.9,179.3 504.7,180.9" fill="#68f241"/>
<polygon points="482.1,183.3 493.4,182.3 488.2,178.5 477.0,179.3" fill="#73f241"/>
<polygon points="454.5,180.1 465.7,179.9 460.6,175.6 449.4,175.7" fill="#8af241"/>
<polygon points="426.9,174.8 438.2,175.4 433.2,170.7 422.0,170.0" fill="#acf23c"/>
<polygon points="526.6,185.8 538.0,183.5 532.6,180.5 521.3,182.6" fill="#6af241"/>
<polygon points="498.6,185.9 509.9,184.4 504.7,180.9 493.4,182.3" fill="#6cf241"/>
<polygon points="470.8,183.9 482.1,183.3 477.0,179.3 465.7,179.9" fill="#7cf241"/>
<polygon points="443.2,179.9 454.5,180.1 449.4,175.7 438.2,175.4" fill="#98f241"/>
<polygon points="515.2,187.7 526.6,185.8 521.3,182.6 509.9,184.4" fill="#6af241"/>
<polygon points="487.3,187.0 498.6,185.9 493.4,182.3 482.1,183.3" fill="#73f241"/>
<polygon points="459.5,184.3 470.8,183.9 465.7,179.9 454.5,180.1" fill="#87f241"/>
<polygon points="431.8,179.5 443.2,179.9 438.2,175.4 426.9,174.8" fill="#a8f241"/>
<polygon points="503.8,189.3 515.2,187.7 509.9,184.4 498.6,185.9" fill="#6ef241"/>
<polygon points="475.9,187.8 487.3,187.0 482.1,183.3 470.8,183.9" fill="#7af241"/>
<polygon points="448.1,184.3 459.5,184.3 454.5,180.1 443.2,179.9" fill="#94f241"/>
<polygon points="492.4,190.6 503.8,189.3 498.6,185.9 487.3,187.0" fill="#73f241"/>
<polygon points="464.5,188.3 475.9,187.8 470.8,183.9 459.5,184.3" fill="#85f241"/>
<polygon points="436.8,184.0 448.1,184.3 443.2,179.9 431.8,179.5" fill="#a4f241"/>
<polygon points="481.0,191.5 492.4,190.6 487.3,187.0 475.9,187.8" fill="#7bf241"/>
<polygon points="453.1,188.4 464.5,188.3 459.5,184.3 448.1,184.3" fill="#92f241"/>
<polygon points="469.5,192.1 481.0,191.5 475.9,187.8 464.5,188.3" fill="#85f241"/>
<polygon points="441.7,188.2 453.1,188.4 448.1,184.3 436.8,184.0" fill="#a0f241"/>
<polygon points="458.1,192.4 469.5,192.1 464.5,188.3 453.1,188.4" fill="#90f241"/>
<polygon points="446.6,192.3 458.1,192.4 453.1,188.4 441.7,188.2" fill="#9ef241"/>
</g>
<ellipse cx="346.2" cy="82" rx="3.8" ry="3" fill="#f6c6c6" stroke="#b07070" stroke-width="0.6"/>
<line x1="446.3" y1="182" x2="446.3" y2="191" stroke="#2a5a00" stroke-width="0.8"/>
<ellipse cx="446.3" cy="181.7" rx="3.7" ry="2.8" fill="#c8000f" stroke="#700000" stroke-width="0.6"/>
<ellipse cx="505.8" cy="140.5" rx="3.7" ry="2.8" fill="#c8000f" stroke="#700000" stroke-width="0.6"/>
<ellipse cx="677" cy="127" rx="3.7" ry="2.8" fill="#c8000f" stroke="#700000" stroke-width="0.6"/>
<text x="505.8" y="9.3" font-size="9.8" textLength="56.9" lengthAdjust="spacingAndGlyphs" fill="#333">3D Surface</text>
<text transform="translate(294.2,191.4) rotate(-90)" font-size="8.4" textLength="117" lengthAdjust="spacingAndGlyphs" fill="#333">Retention Time of Alpelisib (min)</text>
<text x="348.9" y="183.4" font-size="7" text-anchor="end" fill="#555" stroke="#555" stroke-width="0.25">1</text>
<text x="347.1" y="157.3" font-size="7" text-anchor="end" fill="#555" stroke="#555" stroke-width="0.25">1.2</text>
<text x="345.4" y="131.2" font-size="7" text-anchor="end" fill="#555" stroke="#555" stroke-width="0.25">1.4</text>
<text x="343.6" y="105" font-size="7" text-anchor="end" fill="#555" stroke="#555" stroke-width="0.25">1.6</text>
<text x="341.9" y="78.9" font-size="7" text-anchor="end" fill="#555" stroke="#555" stroke-width="0.25">1.8</text>
<text x="340.1" y="52.8" font-size="7" text-anchor="end" fill="#555" stroke="#555" stroke-width="0.25">2</text>
<text x="445.2" y="320.3" font-size="7" text-anchor="end" fill="#555" stroke="#555" stroke-width="0.25">0.2</text>
<text x="426.4" y="302.7" font-size="7" text-anchor="end" fill="#555" stroke="#555" stroke-width="0.25">0.22</text>
<text x="407.6" y="285.1" font-size="7" text-anchor="end" fill="#555" stroke="#555" stroke-width="0.25">0.24</text>
<text x="388.9" y="267.5" font-size="7" text-anchor="end" fill="#555" stroke="#555" stroke-width="0.25">0.26</text>
<text x="370.1" y="249.9" font-size="7" text-anchor="end" fill="#555" stroke="#555" stroke-width="0.25">0.28</text>
<text x="351.3" y="232.3" font-size="7" text-anchor="end" fill="#555" stroke="#555" stroke-width="0.25">0.3</text>
<text x="454" y="320.3" font-size="7" fill="#555" stroke="#555" stroke-width="0.25">30</text>
<text x="508.2" y="308.1" font-size="7" fill="#555" stroke="#555" stroke-width="0.25">35</text>
<text x="562.4" y="296" font-size="7" fill="#555" stroke="#555" stroke-width="0.25">40</text>
<text x="616.5" y="283.9" font-size="7" fill="#555" stroke="#555" stroke-width="0.25">45</text>
<text x="670.7" y="271.7" font-size="7" fill="#555" stroke="#555" stroke-width="0.25">50</text>
<text x="305" y="289.2" font-size="10.3" textLength="50.5" lengthAdjust="spacingAndGlyphs" fill="#333">B: Flow rate</text>
<text x="551.2" y="327.4" font-size="9.9" textLength="100.5" lengthAdjust="spacingAndGlyphs" fill="#333">A: Moblie Phase Ration</text>
<text x="13.1" y="503.2" font-size="15.8" textLength="96" lengthAdjust="spacingAndGlyphs" fill="#333">Factor Coding: Actual</text>
<text x="13.3" y="529.7" font-size="15.8" textLength="209.9" lengthAdjust="spacingAndGlyphs" font-weight="bold" fill="#111">Response: Retention Time of Alpelisib (min)</text>
<ellipse cx="23.5" cy="551.6" rx="5.5" ry="9.4" fill="#c00010" stroke="#5a0010" stroke-width="0.9"/>
<text x="35.6" y="556" font-size="14.8" textLength="60.2" lengthAdjust="spacingAndGlyphs" fill="#a8283a">Design Points</text>
<text x="13.7" y="584.3" font-size="16" textLength="17.3" lengthAdjust="spacingAndGlyphs" fill="#4646b4">1.05</text>
<rect x="34.4" y="567.6" width="35.4" height="23" fill="url(#lg)" stroke="#301818" stroke-width="1"/>
<text x="74.8" y="584.3" font-size="16" textLength="12.4" lengthAdjust="spacingAndGlyphs" fill="#c03444">1.8</text>
<text x="13.1" y="610.1" font-size="16" textLength="65.4" lengthAdjust="spacingAndGlyphs" font-weight="bold" fill="#111">Actual Factor:</text>
<text x="13.1" y="637.8" font-size="16" textLength="37.1" lengthAdjust="spacingAndGlyphs" fill="#333">C = 27.5</text>
<radialGradient id="rg" gradientUnits="userSpaceOnUse" cx="0" cy="0" r="1" gradientTransform="matrix(247.6006,-358.3312,-228.8215,-158.1117,434.616,598.872)"><stop offset="0.0000" stop-color="#2eff00"/><stop offset="0.0167" stop-color="#2eff00"/><stop offset="0.0333" stop-color="#2fff00"/><stop offset="0.0500" stop-color="#30ff00"/><stop offset="0.0667" stop-color="#31ff00"/><stop offset="0.0833" stop-color="#33ff00"/><stop offset="0.1000" stop-color="#35ff00"/><stop offset="0.1167" stop-color="#37ff00"/><stop offset="0.1333" stop-color="#3aff00"/><stop offset="0.1500" stop-color="#3dff00"/><stop offset="0.1667" stop-color="#41ff00"/><stop offset="0.1833" stop-color="#45ff00"/><stop offset="0.2000" stop-color="#49ff00"/><stop offset="0.2167" stop-color="#4eff00"/><stop offset="0.2333" stop-color="#53ff00"/><stop offset="0.2500" stop-color="#58ff00"/><stop offset="0.2667" stop-color="#5eff00"/><stop offset="0.2833" stop-color="#65ff00"/><stop offset="0.3000" stop-color="#6bff00"/><stop offset="0.3167" stop-color="#72ff00"/><stop offset="0.3333" stop-color="#7aff00"/><stop offset="0.3500" stop-color="#81ff00"/><stop offset="0.3667" stop-color="#89ff00"/><stop offset="0.3833" stop-color="#92ff00"/><stop offset="0.4000" stop-color="#9bff00"/><stop offset="0.4167" stop-color="#a4ff00"/><stop offset="0.4333" stop-color="#aeff00"/><stop offset="0.4500" stop-color="#b8ff00"/><stop offset="0.4667" stop-color="#c2ff00"/><stop offset="0.4833" stop-color="#cdff00"/><stop offset="0.5000" stop-color="#d8ff00"/><stop offset="0.5167" stop-color="#e4ff00"/><stop offset="0.5333" stop-color="#efff00"/><stop offset="0.5500" stop-color="#fcff00"/><stop offset="0.5667" stop-color="#fff500"/><stop offset="0.5833" stop-color="#ffe800"/><stop offset="0.6000" stop-color="#ffda00"/><stop offset="0.6167" stop-color="#ffcc00"/><stop offset="0.6333" stop-color="#ffbe00"/><stop offset="0.6500" stop-color="#ffb000"/><stop offset="0.6667" stop-color="#ffa100"/><stop offset="0.6833" stop-color="#ff9100"/><stop offset="0.7000" stop-color="#ff8200"/><stop offset="0.7167" stop-color="#ff7200"/><stop offset="0.7333" stop-color="#ff6100"/><stop offset="0.7500" stop-color="#ff5100"/><stop offset="0.7667" stop-color="#ff3f00"/><stop offset="0.7833" stop-color="#ff2e00"/><stop offset="0.8000" stop-color="#ff1c00"/><stop offset="0.8167" stop-color="#ff0900"/><stop offset="0.8333" stop-color="#ff0000"/><stop offset="0.8500" stop-color="#ff0000"/><stop offset="0.8667" stop-color="#ff0000"/><stop offset="0.8833" stop-color="#ff0000"/><stop offset="0.9000" stop-color="#ff0000"/><stop offset="0.9167" stop-color="#ff0000"/><stop offset="0.9333" stop-color="#ff0000"/><stop offset="0.9500" stop-color="#ff0000"/><stop offset="0.9667" stop-color="#ff0000"/><stop offset="0.9833" stop-color="#ff0000"/><stop offset="1.0000" stop-color="#ff0000"/></radialGradient>
<rect x="303.7" y="377.4" width="299.9" height="277.1" fill="url(#rg)"/>
<g stroke="#a0a0a0" stroke-opacity="0.55" stroke-width="1">
<line x1="378.7" y1="377.4" x2="378.7" y2="654.5"/>
<line x1="453.6" y1="377.4" x2="453.6" y2="654.5"/>
<line x1="528.6" y1="377.4" x2="528.6" y2="654.5"/>
<line x1="303.7" y1="432.8" x2="603.6" y2="432.8"/>
<line x1="303.7" y1="488.2" x2="603.6" y2="488.2"/>
<line x1="303.7" y1="543.7" x2="603.6" y2="543.7"/>
<line x1="303.7" y1="599.1" x2="603.6" y2="599.1"/>
</g>
<g fill="none" stroke="#2a2a10" stroke-width="0.8">
<polyline points="324.4,377.4 322.8,378.9 321.4,380.2 319.7,381.8 318.5,383.0 316.7,384.6 315.6,385.7 313.7,387.5 312.7,388.5 310.8,390.4 309.7,391.5 308.1,393.2 306.7,394.5 305.3,395.9 303.7,397.6 303.7,397.6"/>
<polyline points="386.0,377.4 384.7,378.3 382.9,379.6 380.9,381.0 379.5,382.0 377.9,383.1 375.9,384.6 374.4,385.7 372.9,386.9 370.9,388.4 369.5,389.4 367.9,390.7 365.9,392.2 364.8,393.2 362.9,394.7 361.3,395.9 359.9,397.1 357.9,398.7 356.8,399.6 354.9,401.3 353.6,402.4 351.8,403.9 350.3,405.2 348.8,406.5 347.2,408.0 345.8,409.2 344.1,410.8 342.8,411.9 341.1,413.5 339.8,414.7 338.1,416.3 336.8,417.6 335.2,419.1 333.8,420.5 332.3,421.9 330.8,423.4 329.5,424.7 327.8,426.4 326.8,427.4 324.9,429.3 323.8,430.5 322.3,432.1 320.8,433.7 319.6,434.9 317.9,436.7 316.7,438.0 315.3,439.5 313.7,441.2 312.7,442.4 311.1,444.1 309.7,445.7 308.7,446.9 307.1,448.8 305.7,450.4 304.7,451.5 303.7,452.7"/>
<polyline points="603.6,458.1 602.8,456.2 602.1,454.3 601.3,452.5 600.4,450.6 599.6,448.8 598.6,446.8 597.6,444.8 596.6,443.0 595.6,441.2 594.6,439.5 593.4,437.6 592.2,435.8 591.0,433.9 589.7,432.1 588.6,430.5 587.6,429.2 586.2,427.4 584.6,425.6 583.5,424.3 582.2,422.8 580.5,421.1 579.5,420.0 577.6,418.2 576.5,417.1 574.6,415.4 573.5,414.5 571.5,412.8 570.1,411.7 568.5,410.5 566.5,409.0 565.0,408.0 563.5,407.0 561.5,405.8 559.5,404.6 557.5,403.4 555.5,402.4 553.7,401.5 551.7,400.6 549.7,399.6 547.4,398.7 545.4,397.9 543.4,397.2 541.4,396.5 539.4,395.9 536.5,395.0 534.4,394.5 532.4,394.0 529.4,393.3 527.4,392.9 524.4,392.4 522.4,392.1 519.3,391.8 516.3,391.5 514.3,391.3 511.3,391.1 508.3,391.0 505.3,391.0 502.3,391.1 499.3,391.2 497.1,391.3 494.3,391.5 491.3,391.8 488.3,392.2 486.2,392.4 483.2,392.9 481.2,393.2 478.2,393.8 476.2,394.2 473.2,394.8 471.2,395.3 468.6,395.9 466.2,396.6 464.2,397.1 461.9,397.8 459.2,398.6 457.2,399.3 455.2,399.9 453.1,400.6 450.8,401.5 448.3,402.4 446.1,403.3 444.1,404.1 442.1,404.9 440.1,405.7 438.1,406.6 436.1,407.5 434.1,408.4 432.1,409.4 430.1,410.3 428.1,411.3 426.1,412.4 424.1,413.4 422.1,414.5 420.3,415.4 418.7,416.3 417.0,417.3 415.0,418.4 413.0,419.6 411.0,420.8 409.2,421.9 407.7,422.8 406.0,423.9 404.0,425.1 402.0,426.5 400.5,427.4 399.0,428.5 397.0,429.8 395.1,431.2 393.8,432.1 392.0,433.4 390.0,434.9 388.7,435.8 386.9,437.1 385.0,438.6 383.8,439.5 381.9,441.0 380.3,442.3 378.9,443.4 376.9,445.0 375.8,446.0 373.9,447.6 372.5,448.8 370.9,450.1 369.3,451.5 367.9,452.8 366.2,454.3 364.9,455.5 363.1,457.1 361.9,458.3 360.2,459.9 358.9,461.1 357.3,462.7 355.9,464.1 354.5,465.4 352.8,467.1 351.7,468.2 349.9,470.1 348.8,471.2 347.2,472.9 345.8,474.4 344.6,475.6 342.9,477.5 341.8,478.7 340.4,480.3 338.8,482.1 337.8,483.3 336.4,484.9 334.8,486.8 333.8,488.0 332.5,489.5 330.9,491.4 329.8,492.8 328.7,494.2 327.2,496.0 325.8,497.8 324.8,499.1 323.6,500.7 322.2,502.5 320.8,504.4 319.7,505.8 318.7,507.1 317.4,509.0 316.1,510.9 314.8,512.7 313.7,514.2 312.7,515.6 311.6,517.3 310.3,519.2 309.1,521.0 307.9,522.9 306.7,524.7 305.7,526.2 304.7,527.8 303.7,529.4 303.7,529.4"/>
<polyline points="573.7,654.5 574.8,652.6 575.8,650.8 576.8,648.9 577.8,647.1 578.7,645.2 579.7,643.4 580.7,641.5 581.6,639.7 582.5,637.8 583.5,635.7 584.5,633.6 585.5,631.5 586.5,629.5 587.3,627.6 588.2,625.8 589.0,623.9 589.8,622.1 590.6,620.2 591.6,617.9 592.5,615.6 593.3,613.7 594.0,611.9 594.7,610.0 595.6,607.7 596.5,605.4 597.1,603.5 597.8,601.7 598.6,599.4 599.4,597.0 600.0,595.2 600.6,593.3 601.5,590.6 602.0,588.7 602.6,586.8 603.4,584.1 603.6,583.4"/>
<polyline points="492.2,654.5 493.3,653.2 494.4,651.7 495.8,649.9 497.2,648.0 498.3,646.5 499.3,645.1 500.5,643.4 501.7,641.5 502.9,639.7 504.1,637.8 505.3,636.0 506.3,634.3 507.3,632.6 508.3,630.9 509.3,629.2 510.3,627.4 511.3,625.5 512.3,623.6 513.3,621.7 514.3,619.7 515.3,617.6 516.3,615.6 517.1,613.7 517.9,611.9 518.7,610.0 519.5,608.2 520.4,606.1 521.3,603.5 522.0,601.7 522.7,599.8 523.4,597.8 524.2,595.2 524.8,593.3 525.4,591.4 526.1,588.7 526.6,586.8 527.3,584.1 527.7,582.2 528.3,579.4 528.7,577.6 529.2,574.8 529.5,572.9 529.9,570.2 530.2,567.4 530.4,565.5 530.6,562.8 530.8,560.0 530.9,557.2 530.9,554.4 530.9,551.6 530.8,548.8 530.6,546.1 530.4,543.5 530.1,541.4 529.7,538.7 529.4,536.6 528.9,534.0 528.4,532.0 527.7,529.4 527.1,527.5 526.4,525.2 525.5,522.9 524.8,521.0 524.0,519.2 523.1,517.3 522.1,515.5 521.1,513.6 519.9,511.8 518.7,509.9 517.4,508.1 516.3,506.7 515.1,505.3 513.5,503.4 512.3,502.3 510.6,500.7 509.3,499.5 507.3,497.9 506.0,497.0 504.3,495.8 502.3,494.5 500.3,493.4 498.3,492.4 496.3,491.5 494.3,490.7 492.3,490.0 490.3,489.3 487.5,488.6 485.2,488.1 482.7,487.7 480.2,487.4 477.2,487.1 474.2,487.0 471.2,487.0 468.2,487.1 465.2,487.4 462.7,487.7 460.2,488.1 457.3,488.6 455.2,489.1 453.1,489.6 450.1,490.4 448.1,491.0 446.1,491.6 444.1,492.3 441.6,493.2 439.3,494.2 437.1,495.1 435.1,496.0 433.1,496.9 431.1,497.9 429.3,498.8 427.6,499.7 425.9,500.7 424.1,501.7 422.1,502.9 420.0,504.1 418.2,505.3 416.8,506.2 415.0,507.4 413.0,508.8 411.5,509.9 410.0,511.0 408.0,512.5 406.6,513.6 405.0,514.9 403.1,516.4 402.0,517.4 400.0,519.1 398.8,520.1 397.0,521.8 395.7,522.9 394.0,524.6 392.8,525.7 391.0,527.5 390.0,528.5 388.3,530.3 386.9,531.7 385.7,533.1 384.0,534.9 382.9,536.1 381.5,537.7 380.0,539.6 378.9,540.8 377.7,542.4 376.2,544.2 374.9,545.9 373.9,547.2 372.7,548.8 371.3,550.7 370.0,552.6 368.9,554.2 367.9,555.7 366.9,557.2 365.7,559.0 364.5,560.9 363.3,562.8 362.2,564.6 361.1,566.5 360.1,568.3 359.0,570.2 358.0,572.0 357.0,573.9 356.1,575.7 355.1,577.6 354.2,579.4 353.4,581.3 352.5,583.1 351.7,585.0 350.8,586.9 349.8,589.3 349.0,591.5 348.2,593.3 347.6,595.2 346.8,597.2 345.9,599.8 345.3,601.7 344.7,603.5 343.9,606.3 343.4,608.2 342.8,610.2 342.2,612.8 341.7,614.6 341.1,617.4 340.7,619.3 340.2,622.1 339.8,624.5 339.5,626.7 339.1,629.5 338.8,632.3 338.7,634.1 338.5,636.9 338.4,639.7 338.3,642.5 338.3,645.2 338.4,648.0 338.5,650.8 338.8,653.6 338.9,654.5"/>
</g>
<rect x="311" y="381.4" width="7.8" height="4.6" fill="#fff" stroke="#444" stroke-width="0.6"/>
<text x="314.9" y="384.9" font-size="4.2" text-anchor="middle" fill="#333">1.8</text>
<rect x="337.6" y="407.2" width="8.8" height="5.1" fill="#fff" stroke="#444" stroke-width="0.6"/>
<text x="342" y="411.2" font-size="4.2" text-anchor="middle" fill="#333">1.7</text>
<rect x="430.6" y="402.8" width="8.8" height="5.4" fill="#fff" stroke="#444" stroke-width="0.6"/>
<text x="435" y="407.1" font-size="4.2" text-anchor="middle" fill="#333">1.6</text>
<rect x="452.6" y="481.3" width="8.8" height="5.4" fill="#fff" stroke="#444" stroke-width="0.6"/>
<text x="457" y="485.6" font-size="4.2" text-anchor="middle" fill="#333">1.5</text>
<rect x="585.3" y="614.8" width="9.0" height="5.6" fill="#fff" stroke="#444" stroke-width="0.6"/>
<text x="589.8" y="619.3" font-size="4.2" text-anchor="middle" fill="#333">1.6</text>
<rect x="304.0" y="377.7" width="299.3" height="276.5" fill="none" stroke="#000" stroke-opacity="0.5" stroke-width="1.1"/>
<g stroke="#555" stroke-width="0.9">
<line x1="296.5" y1="377.4" x2="303.7" y2="377.4"/>
<line x1="296.5" y1="432.8" x2="303.7" y2="432.8"/>
<line x1="296.5" y1="488.2" x2="303.7" y2="488.2"/>
<line x1="296.5" y1="543.7" x2="303.7" y2="543.7"/>
<line x1="296.5" y1="599.1" x2="303.7" y2="599.1"/>
<line x1="296.5" y1="654.5" x2="303.7" y2="654.5"/>
<line x1="303.7" y1="654.5" x2="303.7" y2="661.6"/>
<line x1="378.7" y1="654.5" x2="378.7" y2="661.6"/>
<line x1="453.6" y1="654.5" x2="453.6" y2="661.6"/>
<line x1="528.6" y1="654.5" x2="528.6" y2="661.6"/>
<line x1="603.6" y1="654.5" x2="603.6" y2="661.6"/>
</g>
<text x="293.8" y="380" font-size="6.5" text-anchor="end" fill="#555" stroke="#555" stroke-width="0.25">0.3</text>
<text x="293.8" y="435.4" font-size="6.5" text-anchor="end" fill="#555" stroke="#555" stroke-width="0.25">0.28</text>
<text x="293.8" y="490.8" font-size="6.5" text-anchor="end" fill="#555" stroke="#555" stroke-width="0.25">0.26</text>
<text x="293.8" y="546.3" font-size="6.5" text-anchor="end" fill="#555" stroke="#555" stroke-width="0.25">0.24</text>
<text x="293.8" y="601.7" font-size="6.5" text-anchor="end" fill="#555" stroke="#555" stroke-width="0.25">0.22</text>
<text x="293.8" y="657.1" font-size="6.5" text-anchor="end" fill="#555" stroke="#555" stroke-width="0.25">0.2</text>
<text x="303.7" y="670.8" font-size="6.5" text-anchor="middle" fill="#555" stroke="#555" stroke-width="0.25">30</text>
<text x="378.7" y="670.8" font-size="6.5" text-anchor="middle" fill="#555" stroke="#555" stroke-width="0.25">35</text>
<text x="453.6" y="670.8" font-size="6.5" text-anchor="middle" fill="#555" stroke="#555" stroke-width="0.25">40</text>
<text x="528.6" y="670.8" font-size="6.5" text-anchor="middle" fill="#555" stroke="#555" stroke-width="0.25">45</text>
<text x="603.6" y="670.8" font-size="6.5" text-anchor="middle" fill="#555" stroke="#555" stroke-width="0.25">50</text>
<circle cx="303.7" cy="377.4" r="3" fill="#c00010" stroke="#700000" stroke-width="0.6"/>
<circle cx="603.6" cy="377.4" r="3" fill="#c00010" stroke="#700000" stroke-width="0.6"/>
<circle cx="303.7" cy="654.5" r="3" fill="#c00010" stroke="#700000" stroke-width="0.6"/>
<circle cx="603.6" cy="654.5" r="3" fill="#c00010" stroke="#700000" stroke-width="0.6"/>
<circle cx="453.6" cy="516.0" r="3" fill="#c00010" stroke="#700000" stroke-width="0.6"/>
<text x="449.2" y="518" font-size="4.5" text-anchor="end" fill="#333">5</text>
<text x="384.9" y="372.9" font-size="9.7" textLength="136" lengthAdjust="spacingAndGlyphs" fill="#333">Retention Time of Alpelisib (min)</text>
<text x="410.5" y="693.8" font-size="13.5" textLength="140.2" lengthAdjust="spacingAndGlyphs" fill="#333">X: A: Moblie Phase Ration</text>
<text x="440.9" y="719" font-size="13.5" textLength="75.9" lengthAdjust="spacingAndGlyphs" fill="#333">Y: B: Flow rate</text>
</svg></body></html>
